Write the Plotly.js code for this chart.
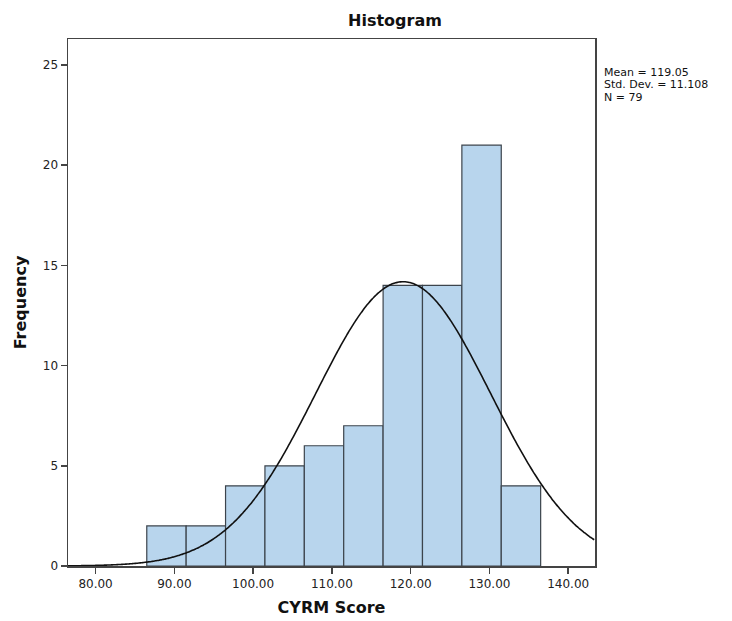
<!DOCTYPE html>
<html>
<head>
<meta charset="utf-8">
<script src="https://cdn.plot.ly/plotly-3.0.1.min.js"></script>
<style>html,body{margin:0;padding:0;background:#fff;}#chart{width:732px;height:621px;}</style>
</head>
<body>
<div id="chart"></div>
<script>
// Histogram bins (centres, width 5) and frequencies
var binCenters = [89, 94, 99, 104, 109, 114, 119, 124, 129, 134];
var frequencies = [2, 2, 4, 5, 6, 7, 14, 14, 21, 4];
var binWidth = 5;
// Summary statistics printed beside the chart
var statMean = 119.05;
var statSD = 11.108;
var statN = 79;
var xTickVals = [80, 90, 100, 110, 120, 130, 140];
var yTickVals = [0, 5, 10, 15, 20, 25];

var xRange = [76.5, 143.4];
var yRange = [0, 26.3];

// Normal curve implied by the reported mean / sd / N (scaled to bin width)
var curveX = [], curveY = [];
for (var v = xRange[0]; v <= xRange[1] + 1e-9; v += 0.2) {
  var z = (v - statMean) / statSD;
  curveX.push(v);
  curveY.push(statN * binWidth * Math.exp(-0.5 * z * z) / (statSD * Math.sqrt(2 * Math.PI)));
}

var font = "DejaVu Sans, Liberation Sans, sans-serif";
var data = [
  {
    type: 'bar', x: binCenters, y: frequencies, width: binWidth,
    marker: {color: '#b8d5ed', line: {color: '#3c444c', width: 1.2}},
    hoverinfo: 'x+y'
  },
  {
    type: 'scatter', mode: 'lines', x: curveX, y: curveY,
    line: {color: '#111111', width: 1.6, shape: 'spline'}, hoverinfo: 'skip'
  }
];

var statLines = [
  'Mean = ' + statMean.toFixed(2),
  'Std. Dev. = ' + statSD.toFixed(3),
  'N = ' + statN
];

var layout = {
  width: 732, height: 621,
  paper_bgcolor: '#ffffff', plot_bgcolor: '#ffffff',
  margin: {l: 68, r: 137, t: 39, b: 55},
  showlegend: false,
  bargap: 0,
  font: {family: font, size: 12, color: '#222222'},
  title: {
    text: '<b>Histogram</b>', font: {family: font, size: 16, color: '#111111'},
    xref: 'container', x: 395 / 732, xanchor: 'center',
    yref: 'container', y: 1 - 20 / 621, yanchor: 'middle'
  },
  xaxis: {
    range: xRange, tickvals: xTickVals, tickformat: '.2f',
    showgrid: false, zeroline: false,
    showline: true, mirror: true, linecolor: '#444444', linewidth: 1.5,
    ticks: 'outside', ticklen: 6, tickcolor: '#444444', tickwidth: 1.5,
    tickfont: {family: font, size: 12, color: '#222222'},
    title: {text: '<b>CYRM Score</b>', font: {family: font, size: 16, color: '#111111'}, standoff: 12}
  },
  yaxis: {
    range: yRange, tickvals: yTickVals,
    showgrid: false, zeroline: false,
    showline: true, mirror: true, linecolor: '#444444', linewidth: 1.5,
    ticks: 'outside', ticklen: 6, tickcolor: '#444444', tickwidth: 1.5,
    tickfont: {family: font, size: 12, color: '#222222'},
    title: {text: '<b>Frequency</b>', font: {family: font, size: 16, color: '#111111'}, standoff: 12}
  },
  annotations: statLines.map(function (t, i) {
    return {
      text: t, xref: 'paper', yref: 'paper', x: 1, y: 1,
      xanchor: 'left', yanchor: 'middle', xshift: 7, yshift: -33 - i * 12.8,
      showarrow: false, align: 'left',
      font: {family: font, size: 11, color: '#111111'}
    };
  })
};

Plotly.newPlot('chart', data, layout, {displayModeBar: false, staticPlot: true});
</script>
</body>
</html>
